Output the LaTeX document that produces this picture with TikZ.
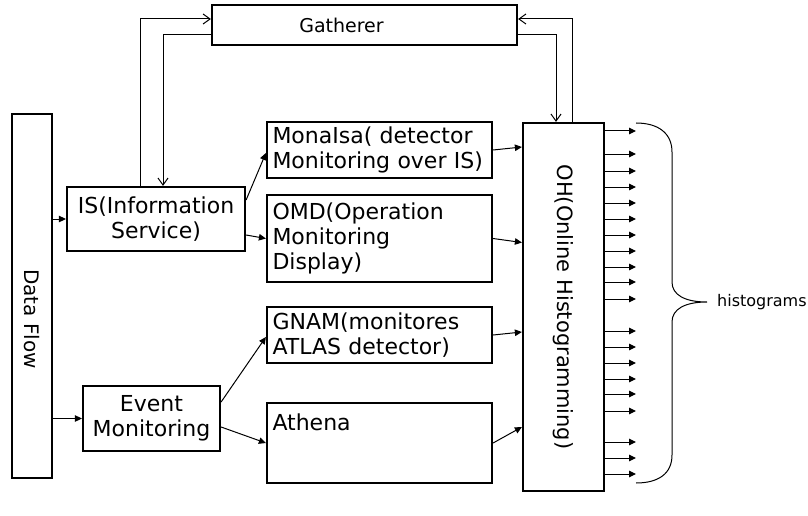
\documentclass[tikz,border=0pt]{standalone}
\usepackage{fontspec}
\setmainfont{DejaVu Sans}
\usetikzlibrary{arrows.meta,calc}
\begin{document}
\begin{tikzpicture}[x=1pt, y=-1pt,
    box/.style={draw, line width=2.2pt, inner sep=0pt, font=\fontsize{22}{25}\selectfont},
    tbox/.style={box, minimum width=225pt, text width=214pt, inner xsep=5.5pt, align=left},
    arr/.style={-{Triangle[length=7pt,width=6.5pt]}, line width=1pt},
    barb/.style={-{Straight Barb[length=7pt,width=10pt]}, line width=1pt}]
    \useasboundingbox (0,0) rectangle (808,516);

    % Boites
    \node[box, minimum width=305pt, minimum height=40pt, font=\fontsize{19}{22}\selectfont] (gath) at (364.5,25) {Gatherer\hspace*{46pt}};
    \node[box, minimum width=40pt, minimum height=364pt, font=\fontsize{20}{24}\selectfont] (df) at (32,296) {\rotatebox{-90}{\hspace*{46pt}Data Flow}};
    \node[box, minimum width=178pt, minimum height=64pt, align=center] (is) at (156,219) {IS(Information\\Service)};
    \node[box, minimum width=137pt, minimum height=65pt, align=center] (ev) at (151.5,418.5) {Event\\Monitoring};
    \node[tbox, minimum height=56pt] (mona) at (379.5,150) {MonaIsa( detector\\Monitoring over IS)};
    \node[tbox, minimum height=87pt] (omd) at (379.5,238.5) {OMD(Operation\\Monitoring\\Display)};
    \node[tbox, minimum height=56pt] (gnam) at (379.5,335) {GNAM(monitores\\ATLAS detector)};
    \node[tbox, inner ysep=12pt, text height=15pt, text depth=41pt] (ath) at (379.5,443) {Athena};
    \node[box, minimum width=81pt, minimum height=368pt, font=\fontsize{21}{25}\selectfont] (oh) at (563.5,307) {\rotatebox{-90}{OH(Online Histogramming)}};

    % Boucles vers le Gatherer
    \draw[barb] ($(is.north)+(-16,0)$) |- ($(gath.west)+(0,-6)$);
    \draw[barb] ($(gath.west)+(0,10)$) -| ($(is.north)+(7,0)$);
    \draw[barb] ($(gath.east)+(0,10)$) -| ($(oh.north)+(-7.5,0)$);
    \draw[barb] ($(oh.north)+(8.5,0)$) |- ($(gath.east)+(0,-6)$);

    % Fleches
    \draw[arr] (df.east |- is.west) -- (is.west);
    \draw[arr] (df.east |- ev.west) -- (ev.west);
    \draw[arr] ($(is.east)+(0,-19)$) -- ($(mona.west)+(0,3)$);
    \draw[arr] ($(is.east)+(0,16)$) -- (omd.west);
    \draw[arr] ($(ev.east)+(0,-16.5)$) -- ($(gnam.west)+(0,2)$);
    \draw[arr] ($(ev.east)+(0,8.5)$) -- (ath.west);
    \draw[arr] (mona.east) -- ($(oh.west |- mona.east)+(0,-3)$);
    \draw[arr] (omd.east) -- ($(oh.west |- omd.east)+(0,4)$);
    \draw[arr] (gnam.east) -- ($(oh.west |- gnam.east)+(0,-3)$);
    \draw[arr] (ath.east) -- ($(oh.west |- ath.east)+(0,-16)$);

    % Sorties
    \foreach \y in {131,154,171,187,203,219,235,251,267,282,299,331,347,363,379,394,411,442,458,474}
        \draw[arr] (oh.east |- 0,\y) -- (636,\y);

    % Accolade
    \draw[line width=1pt] (636,123) .. controls (658,123) and (672,133) .. (672,152) -- (672,282)
        .. controls (672,295) and (685,302) .. (707,302) coordinate (tip)
        .. controls (685,302) and (672,309) .. (672,322) -- (672,455)
        .. controls (672,474) and (658,483) .. (636,483);
    \node[anchor=west, font=\fontsize{16}{19}\selectfont, inner sep=0pt] (hist) at ($(tip)+(10,0)$) {histograms};
\end{tikzpicture}
\end{document}
